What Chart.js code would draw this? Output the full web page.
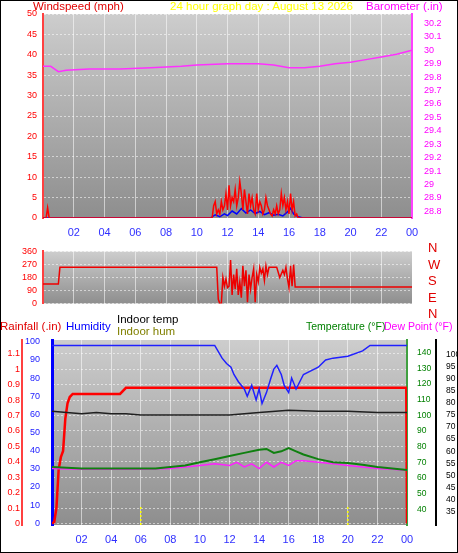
<!DOCTYPE html>
<html><head><meta charset="utf-8">
<script src="https://cdn.jsdelivr.net/npm/chart.js@4"></script>
<style>
body{margin:0;width:458px;height:553px;background:#fff;font-family:"Liberation Sans",Arial,sans-serif;overflow:hidden}
#frame{position:absolute;left:0;top:0;width:456px;height:551px;border:1px solid #000}
.c{position:absolute;left:0}
.t{position:absolute;font-size:11.5px;white-space:nowrap;line-height:12px}
</style></head><body>
<div id="frame"></div>
<div class="c" style="top:0;width:458px;height:245px"><canvas id="c1"></canvas></div>
<div class="c" style="top:240px;width:458px;height:75px"><canvas id="c2"></canvas></div>
<div class="c" style="top:315px;width:458px;height:238px"><canvas id="c3"></canvas></div>
<div class="t" style="left:33px;top:0;color:#e00000">Windspeed (mph)</div>
<div class="t" style="left:170px;top:0;color:#ffff00">24 hour graph day : August 13 2026</div>
<div class="t" style="left:366px;top:0;color:#ff00ff">Barometer (.in)</div>
<div class="t" style="left:428px;top:240px;color:#e00000;line-height:16.5px;font-size:13px">N<br>W<br>S<br>E<br>N</div>
<div class="t" style="left:0;top:320px;color:#e00000">Rainfall (.in)</div>
<div class="t" style="left:66px;top:320px;color:#0000ff">Humidity</div>
<div class="t" style="left:117px;top:313px;color:#000">Indoor temp</div>
<div class="t" style="left:117px;top:325px;color:#808000">Indoor hum</div>
<div class="t" style="left:306px;top:320px;color:#008000;font-size:10.5px">Temperature (°F)</div>
<div class="t" style="left:384px;top:320px;color:#ff00ff;font-size:10.5px">Dew Point (°F)</div>
<script>
// ---- data ----
const hourTicks = ["02","04","06","08","10","12","14","16","18","20","22","00"];
const windTicks = [0,5,10,15,20,25,30,35,40,45,50];
const baroTicks = [28.8,28.9,29,29.1,29.2,29.3,29.4,29.5,29.6,29.7,29.8,29.9,30,30.1,30.2];
const dirTicks  = [0,90,180,270,360];
const humTicks  = [0,10,20,30,40,50,60,70,80,90,100];
const rainTicks = [0,0.1,0.2,0.3,0.4,0.5,0.6,0.7,0.8,0.9,1,1.1];
const tempTicks = [40,50,60,70,80,90,100,110,120,130,140];
const inTicks   = [35,40,45,50,55,60,65,70,75,80,85,90,95,100];
const baroHours = [0,0.5,1,1.5,3,5,7,9,10,12,14,15,16,17,18,19,20,21,22,23,24];
const baroVals  = [29.88,29.88,29.84,29.85,29.86,29.86,29.87,29.88,29.89,29.90,29.90,29.89,29.87,29.87,29.88,29.90,29.91,29.93,29.95,29.97,30.00];
const gustHours = [0,0.2,0.3,0.4,0.6,10.9,11.0,11.1,11.2,11.3,11.4,11.5,11.6,11.7,11.8,11.9,12.0,12.1,12.2,12.3,12.4,12.5,12.6,12.7,12.8,12.9,13.0,13.1,13.2,13.3,13.4,13.5,13.6,13.7,13.8,13.9,14.0,14.1,14.2,14.3,14.4,14.5,14.6,14.7,14.8,14.9,15.0,15.1,15.2,15.3,15.4,15.5,15.6,15.7,15.8,15.9,16.0,16.1,16.2,16.3,16.4,16.5,16.6,16.8,24];
const gustVals  = [0,0,2.5,0,0,0,0,3,4,1,2,1,4,2,3,6,2,8,3,5,4,7,3,5,9,6,2,7,4,1,6,3,5,2,1,6,2,4,3,1,2,5,3,2,1,0.5,2,1,3,1,2,6,3,5,2,4,1,6,2,4,0.5,1,0,0,0];
const avgHours  = [0,10.9,11.2,11.5,11.8,12.0,12.3,12.6,12.9,13.2,13.5,13.8,14.1,14.4,14.7,15.0,15.3,15.6,15.9,16.1,16.3,16.6,16.9,24];
const avgVals   = [0,0,0.8,0.3,1.0,0.6,1.7,1.0,2.3,1.2,2.0,1.1,1.6,0.8,1.3,0.7,0.9,0.5,1.5,2.4,1.0,0.3,0,0];
const dirHours  = [0,1.0,1.1,6,11.2,11.3,11.4,11.5,11.6,11.7,11.8,11.9,12.0,12.1,12.2,12.3,12.4,12.5,12.6,12.7,12.8,12.9,13.0,13.1,13.2,13.3,13.4,13.5,13.6,13.7,13.8,13.9,14.0,14.1,14.2,14.3,14.4,14.5,14.6,14.7,14.8,14.9,15.0,15.2,15.4,15.6,15.7,15.8,15.9,16.0,16.1,16.2,16.3,16.4,16.5,16.6,24];
const dirVals   = [135,135,250,250,250,250,30,0,0,180,120,170,110,120,300,60,200,100,240,60,150,40,260,120,230,10,200,100,180,240,10,200,150,250,210,240,160,260,200,250,250,250,250,250,180,230,200,250,170,110,260,120,270,115,115,115,115];
const rainHours = [0,0.15,0.3,0.45,0.6,0.75,0.9,1.05,1.2,1.4,1.6,4.6,5.0,5.3,23.9,23.95,24];
const rainVals  = [0,0.01,0.10,0.35,0.43,0.47,0.68,0.78,0.82,0.84,0.84,0.84,0.88,0.88,0.88,0.88,0];
const humHours  = [0,11.0,11.5,11.8,12.1,12.3,12.6,13.0,13.2,13.5,13.8,14.0,14.2,14.5,14.8,15.0,15.2,15.5,15.7,16.0,16.2,16.5,17.0,17.5,18.0,18.5,19.0,20.0,21.0,21.5,24];
const humVals   = [98,98,91,88,86,82,78,74,70,76,68,74,66,72,80,85,87,82,76,72,80,74,82,84,86,90,91,92,95,98,98];
const tempHours = [0,1,2,4,6,7,8,9,10,11,12,13,14,14.5,15,15.5,16,16.5,17,18,19,20,21,22,23,24];
const tempVals  = [67,66.5,66,66,66,66,67,68,70,72,74,76,78,78.5,76,77,79,77,75,72,70,69.5,68.5,67,66,65];
const dewHours  = [0,2,4,6,8,10,11,12,12.5,13,13.5,14,14.5,15,15.5,16,16.5,17,18,19,20,21,22,23,24];
const dewVals   = [66,65.5,65.5,65.5,66,68,69,68,70,67,69,66,70,67,70,68,71,71,70,69,68,67,66,65.5,65];
const inHours   = [0,1,2,3,4,5,6,8,10,12,14,16,18,20,22,24];
const inVals    = [76.5,76,75.5,76,75.5,75.5,75,75,75,75,76,77,76.5,76.5,76,76];
const sunMarks  = [6,20];

const pts=(h,v)=>h.map((x,i)=>({x:x,y:v[i]}));
Chart.defaults.animation=false;
Chart.defaults.font.family='"Liberation Sans",Arial,sans-serif';
Chart.defaults.font.size=9;
const bg={id:'bg',beforeDraw(c){const a=c.chartArea,x=c.ctx;const g=x.createLinearGradient(0,a.top,0,a.bottom);g.addColorStop(0,'#cdcdcd');g.addColorStop(1,'#8e8e8e');x.save();x.fillStyle=g;x.fillRect(a.left,a.top,a.right-a.left,a.bottom-a.top);x.restore();}};
const fix=w=>(s)=>{s.width=w;};
const fixH=h=>(s)=>{s.height=h;};
const setT=arr=>(s)=>{s.ticks=arr.map(v=>({value:v}));};
const grid={color:'rgba(255,255,255,0.55)',drawTicks:false,lineWidth:1};
function xAxis(show,h){return {type:'linear',min:0,max:24,afterFit:fixH(h),
 grid:{...grid,display:true},border:{display:false},
 ticks:{display:show,stepSize:2,color:'#3030ff',font:{size:11},padding:8,callback:v=>v>0&&v%2==0?hourTicks[v/2-1]:''}};}
function yAx(pos,min,max,w,ticks,color,bcol,bw,dash,pad,showGrid,fmt,fs){return {position:pos,min:min,max:max,afterFit:fix(w),afterBuildTicks:setT(ticks),
 grid:showGrid?grid:{display:false},border:{color:bcol,width:bw,dash:dash},
 ticks:{color:color,padding:pad,autoSkip:false,font:{size:fs||9},callback:fmt||(v=>String(v))}};}
const ln=(d,c,w,axis)=>({data:d,borderColor:c,borderWidth:w,pointRadius:0,yAxisID:axis,tension:0,fill:false});
const base={responsive:true,maintainAspectRatio:false,plugins:{legend:{display:false},tooltip:{enabled:false}}};

new Chart(document.getElementById('c1'),{type:'line',plugins:[bg],
 data:{datasets:[ln(pts(baroHours,baroVals),'#ff30ff',1.5,'yB'),ln(pts(gustHours,gustVals),'#ff0000',1.5,'yW'),ln(pts(avgHours,avgVals),'#0000ff',1.5,'yW')]},
 options:{...base,layout:{padding:{top:14}},
 scales:{x:xAxis(true,27),
 yW:yAx('left',0,50,43,windTicks,'#ff0000','#ff4040',2,[2,2],6,true),
 yB:yAx('right',28.75,30.27,46,baroTicks,'#ff00ff','#ff40ff',2,[2,2],4,false)}}});

new Chart(document.getElementById('c2'),{type:'line',plugins:[bg],
 data:{datasets:[ln(pts(dirHours,dirVals),'#ee0000',1.5,'yD')]},
 options:{...base,layout:{padding:{top:5,right:46,bottom:4}},
 scales:{x:xAxis(false,0),
 yD:yAx('left',0,360,43,dirTicks,'#ff0000','#ff4040',2,[2,2],6,true)}}});

const sunPlugin={id:'sun',afterDatasetsDraw(c){const x=c.scales.x,a=c.chartArea,ctx=c.ctx;ctx.save();ctx.strokeStyle='#ffff00';ctx.setLineDash([2,2]);ctx.lineWidth=1.5;sunMarks.forEach(h=>{const px=x.getPixelForValue(h);ctx.beginPath();ctx.moveTo(px,a.bottom-18);ctx.lineTo(px,a.bottom);ctx.stroke();});ctx.restore();}};
new Chart(document.getElementById('c3'),{type:'line',plugins:[bg,sunPlugin],
 data:{datasets:[ln(pts(humHours,humVals),'#2020ff',1.5,'yH'),ln(pts(inHours,inVals),'#202020',1.5,'yK'),ln(pts(tempHours,tempVals),'#108010',2,'yT'),ln(pts(dewHours,dewVals),'#ff20ff',1.5,'yT'),ln(pts(rainHours,rainVals),'#ff0000',2.5,'yR')]},
 options:{...base,layout:{padding:{top:25}},
 scales:{x:xAxis(true,28),
 yH:yAx('left',-1,101,30,humTicks,'#2020ff','#0000ff',3,[],4,false),
 yR:yAx('left',-0.01,1.19,22,rainTicks,'#ff0000','#ff4040',2,[2,2],2,true,v=>String(Math.round(v*10)/10)),
 yT:yAx('right',30,148,29,tempTicks,'#008000','#40a040',2,[2,2],2,false,null,8.5),
 yK:yAx('right',29.5,106,22,inTicks,'#000','#000',2,[],2,false,null,8.5)}}});
</script></body></html>
